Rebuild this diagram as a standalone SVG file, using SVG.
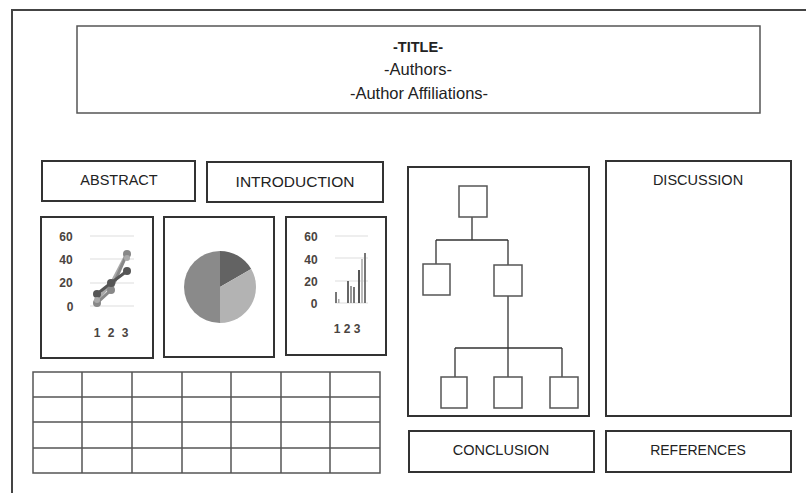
<svg xmlns="http://www.w3.org/2000/svg" width="806" height="493" viewBox="0 0 806 493">
<style>
.box{fill:#fff;stroke:#333;stroke-width:2}
.thin{fill:#fff;stroke:#555;stroke-width:1.5}
.lbl{font-family:"Liberation Sans",Arial,sans-serif;font-size:14.5px;fill:#222;text-anchor:middle}
.ax{font-family:"Liberation Sans",Arial,sans-serif;font-size:12px;font-weight:600;fill:#4a4440;text-anchor:middle}
.grid{stroke:#ddd;stroke-width:1.2}
.tree{stroke:#333;stroke-width:1.3;fill:none}
.tbl{stroke:#555;stroke-width:1.5;fill:none}
</style>
<rect width="806" height="493" fill="#fff"/>
<g id="frame"><path d="M12 493 V10 H806" fill="none" stroke="#444" stroke-width="2"/></g>

<g id="title">
<rect class="thin" x="77" y="26" width="683" height="87"/>
<text class="lbl" x="418" y="52" font-weight="bold" style="font-size:15.5px" textLength="50" lengthAdjust="spacingAndGlyphs">-TITLE-</text>
<text class="lbl" x="418" y="75" style="font-size:16.5px">-Authors-</text>
<text class="lbl" x="419" y="99" style="font-size:16.5px">-Author Affiliations-</text>
</g>

<g id="abstract">
<rect class="box" x="42" y="161" width="153" height="40"/>
<text class="lbl" x="119" y="185">ABSTRACT</text>
</g>
<g id="introduction">
<rect class="box" x="207" y="162" width="176" height="40"/>
<text class="lbl" x="295" y="187" style="font-size:15.5px">INTRODUCTION</text>
</g>

<g id="line-chart">
<rect class="box" x="41" y="217" width="112" height="141"/>
<line class="grid" x1="90" y1="236" x2="134" y2="236"/>
<line class="grid" x1="90" y1="259" x2="134" y2="259"/>
<line class="grid" x1="90" y1="283" x2="134" y2="283"/>
<line class="grid" x1="90" y1="306" x2="134" y2="306"/>
<text class="ax" x="66" y="241">60</text>
<text class="ax" x="66" y="264">40</text>
<text class="ax" x="66" y="287">20</text>
<text class="ax" x="70" y="311">0</text>
<text class="ax" x="97" y="337">1</text>
<text class="ax" x="111" y="337">2</text>
<text class="ax" x="125" y="337">3</text>
<polyline points="97,300 111,284 127,253" fill="none" stroke="#aaa" stroke-width="3"/>
<polyline points="97,303 111,290 127,254" fill="none" stroke="#888" stroke-width="3"/>
<polyline points="97,294 111,283 127,271" fill="none" stroke="#555" stroke-width="3"/>
<g fill="#888"><circle cx="97" cy="303" r="4"/><circle cx="111" cy="290" r="4"/><circle cx="127" cy="254" r="4"/></g>
<g fill="#555"><circle cx="97" cy="294" r="4"/><circle cx="111" cy="283" r="4"/><circle cx="127" cy="271" r="4"/></g>
<g fill="#aaa"><circle cx="97" cy="300" r="3"/><circle cx="127" cy="258" r="3"/></g>
</g>

<g id="pie-chart">
<rect class="box" x="164" y="217" width="110" height="140"/>
<path d="M220 287 L220 251 A36 36 0 0 1 251.2 269 Z" fill="#636363"/>
<path d="M220 287 L251.2 269 A36 36 0 0 1 220 323 Z" fill="#b3b3b3"/>
<path d="M220 287 L220 323 A36 36 0 0 1 220 251 Z" fill="#8a8a8a"/>
</g>

<g id="bar-chart">
<rect class="box" x="286" y="217" width="100" height="138"/>
<line class="grid" x1="335" y1="236" x2="368" y2="236"/>
<line class="grid" x1="335" y1="258" x2="368" y2="258"/>
<line class="grid" x1="335" y1="281" x2="368" y2="281"/>
<line class="grid" x1="335" y1="303" x2="368" y2="303"/>
<text class="ax" x="311" y="241">60</text>
<text class="ax" x="311" y="264">40</text>
<text class="ax" x="311" y="286">20</text>
<text class="ax" x="314" y="308">0</text>
<text class="ax" x="347" y="333">1 2 3</text>
<rect x="335" y="292" width="2" height="11" fill="#777"/>
<rect x="338" y="299" width="1.5" height="4" fill="#aaa"/>
<rect x="347" y="281" width="2" height="22" fill="#666"/>
<rect x="350" y="286" width="2" height="17" fill="#999"/>
<rect x="353" y="287" width="2" height="16" fill="#777"/>
<rect x="358" y="270" width="2" height="33" fill="#555"/>
<rect x="361" y="259" width="2" height="44" fill="#bbb"/>
<rect x="364" y="253" width="2" height="50" fill="#777"/>
</g>

<g id="table">
<rect class="tbl" x="33" y="372" width="347" height="101"/>
<path class="tbl" d="M82 372V473M132 372V473M182 372V473M231 372V473M281 372V473M330 372V473M33 397H380M33 422H380M33 448H380"/>
</g>

<g id="org-chart">
<rect class="box" x="408" y="167" width="181" height="249"/>
<g id="connectors">
<path class="tree" d="M472 217V240M436 240H508M436 240V264M508 240V265M508 296V348M455 348H562M455 348V377M508 348V377M562 348V377"/>
</g>
<rect class="thin" x="459" y="186" width="28" height="31"/>
<rect class="thin" x="423" y="264" width="27" height="31"/>
<rect class="thin" x="494" y="265" width="28" height="31"/>
<rect class="thin" x="441" y="377" width="26" height="31"/>
<rect class="thin" x="494" y="377" width="28" height="31"/>
<rect class="thin" x="550" y="377" width="28" height="31"/>
</g>

<g id="discussion">
<rect class="box" x="606" y="161" width="185" height="255"/>
<text class="lbl" x="698" y="185">DISCUSSION</text>
</g>
<g id="conclusion">
<rect class="box" x="409" y="431" width="185" height="41"/>
<text class="lbl" x="501" y="455">CONCLUSION</text>
</g>
<g id="references">
<rect class="box" x="606" y="431" width="185" height="41"/>
<text class="lbl" x="698" y="455" style="font-size:14px">REFERENCES</text>
</g>
</svg>
